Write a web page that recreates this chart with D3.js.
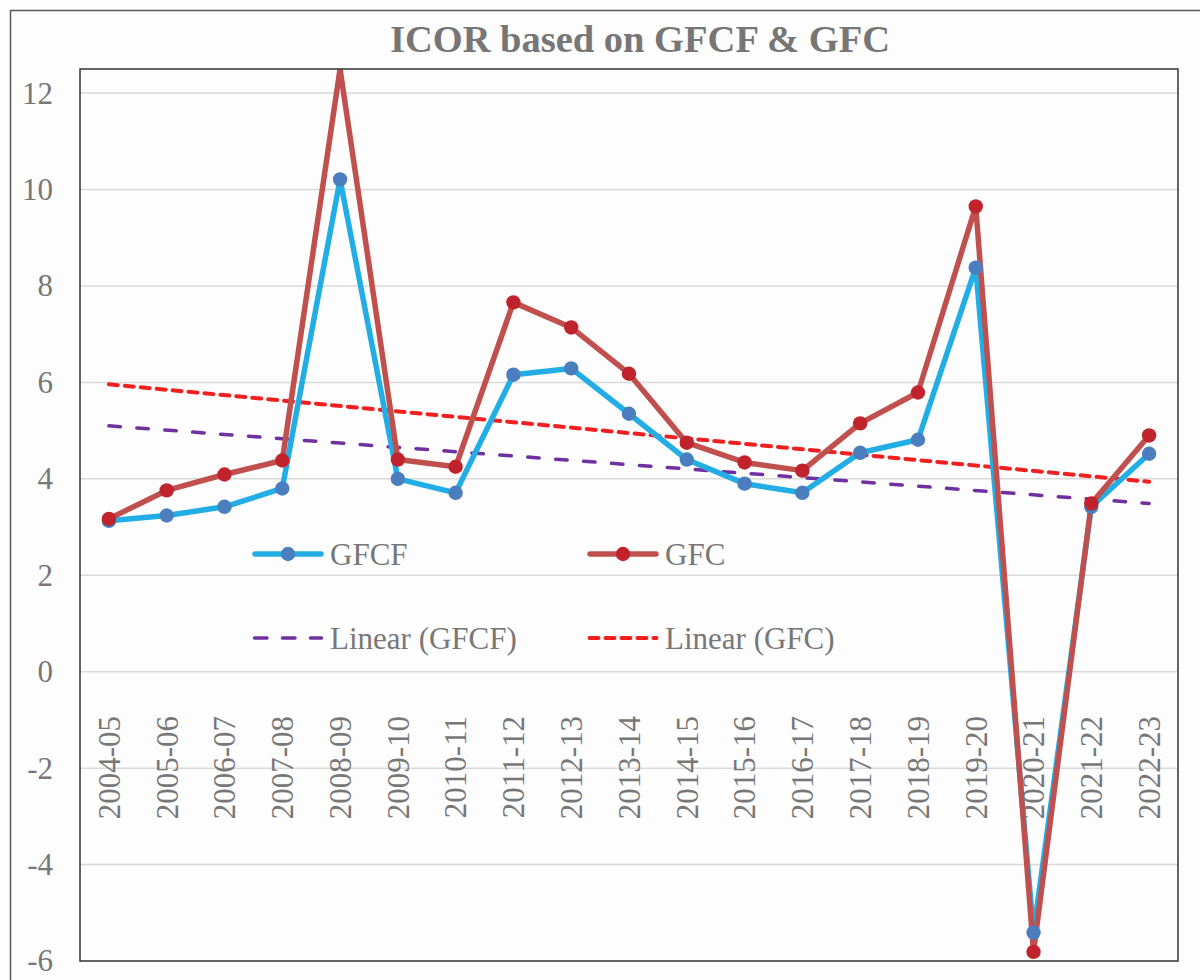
<!DOCTYPE html>
<html>
<head>
<meta charset="utf-8">
<script src="https://cdn.jsdelivr.net/npm/d3@7"></script>
<style>
  html, body { margin: 0; padding: 0; background: #fdfdfe; }
  svg { display: block; }
  text { font-family: "Liberation Serif", "Times New Roman", serif; }
</style>
</head>
<body>
<svg id="chart" width="1200" height="980"></svg>
<script>
const categories = ["2004-05","2005-06","2006-07","2007-08","2008-09","2009-10","2010-11","2011-12","2012-13","2013-14","2014-15","2015-16","2016-17","2017-18","2018-19","2019-20","2020-21","2021-22","2022-23"];
const gfcf = [3.13,3.24,3.42,3.80,10.21,4.00,3.71,6.16,6.29,5.35,4.40,3.90,3.71,4.54,4.81,8.38,-5.41,3.42,4.52];
const gfc  = [3.17,3.76,4.09,4.38,12.5,4.40,4.25,7.66,7.14,6.18,4.75,4.34,4.17,5.15,5.79,9.65,-5.81,3.49,4.90];
// Linear trendline values at first and last category (as drawn)
const trendGfcf = [5.10, 3.49];
const trendGfc  = [5.96, 3.94];
const yTicks = [-6,-4,-2,0,2,4,6,8,10,12];
const title = "ICOR based on GFCF & GFC";
const legendLabels = ["GFCF","GFC","Linear (GFCF)","Linear (GFC)"];

const svg = d3.select("#chart");
const plot = {left: 80, right: 1178, top: 69, bottom: 961};

const x = d3.scalePoint().domain(categories).range([plot.left, plot.right]).padding(0.5);
const y = d3.scaleLinear().domain([-6, 12.5]).range([plot.bottom, plot.top]);

// outer frame
svg.append("path")
  .attr("d", `M10.5,990 L10.5,10.5 L1210,10.5`)
  .attr("fill", "none").attr("stroke", "#595959").attr("stroke-width", 1.5);

// plot background
svg.append("rect")
  .attr("x", plot.left).attr("y", plot.top)
  .attr("width", plot.right - plot.left).attr("height", plot.bottom - plot.top)
  .attr("fill", "#fdfdfe");

// gridlines
svg.append("g").selectAll("line").data(yTicks.filter(t => t > -6)).join("line")
  .attr("x1", plot.left).attr("x2", plot.right)
  .attr("y1", d => y(d)).attr("y2", d => y(d))
  .attr("stroke", "#d9d9d9").attr("stroke-width", 1.5);

// y-axis labels via d3 axis
const yAxis = svg.append("g")
  .attr("transform", `translate(${plot.left},0)`)
  .call(d3.axisLeft(y).tickValues(yTicks).tickSize(0).tickPadding(27).tickFormat(d3.format("d")));
yAxis.select(".domain").remove();
yAxis.selectAll("text")
  .attr("fill", "#777777").style("font-size", "31px")
  .style("font-family", "'Liberation Serif', serif")
  .text(d => String(d).replace("\u2212", "-"));

// x-axis labels (rotated)
svg.append("g").selectAll("text").data(categories).join("text")
  .attr("transform", d => `translate(${x(d)},716) rotate(-90)`)
  .attr("text-anchor", "end")
  .attr("dy", "0.35em")
  .attr("fill", "#777777").style("font-size", "31px")
  .text(d => d);

// clip
svg.append("clipPath").attr("id", "clip").append("rect")
  .attr("x", plot.left).attr("y", plot.top)
  .attr("width", plot.right - plot.left).attr("height", plot.bottom - plot.top);

const g = svg.append("g").attr("clip-path", "url(#clip)");

// trendlines
const first = categories[0], last = categories[categories.length - 1];
g.append("line")
  .attr("x1", x(first)).attr("y1", y(trendGfcf[0]))
  .attr("x2", x(last)).attr("y2", y(trendGfcf[1]))
  .attr("stroke", "#7030a0").attr("stroke-width", 3.5)
  .attr("stroke-dasharray", "11.5,16.5").attr("stroke-linecap", "round");
g.append("line")
  .attr("x1", x(first)).attr("y1", y(trendGfc[0]))
  .attr("x2", x(last)).attr("y2", y(trendGfc[1]))
  .attr("stroke", "#f02020").attr("stroke-width", 4)
  .attr("stroke-dasharray", "9,7").attr("stroke-linecap", "round");

const line = d3.line().x((d, i) => x(categories[i])).y(d => y(d));

// GFCF
g.append("path").datum(gfcf).attr("d", line)
  .attr("fill", "none").attr("stroke", "#22aee5").attr("stroke-width", 5.5)
  .attr("stroke-linejoin", "round").attr("stroke-linecap", "round");
// GFC
g.append("path").datum(gfc).attr("d", line)
  .attr("fill", "none").attr("stroke", "#c0504d").attr("stroke-width", 5.5)
  .attr("stroke-linejoin", "round").attr("stroke-linecap", "round");

// markers
svg.append("g").selectAll("circle").data(gfcf).join("circle")
  .attr("cx", (d, i) => x(categories[i])).attr("cy", d => y(d)).attr("r", 7.2)
  .attr("fill", "#4a7ebf");
svg.append("g").selectAll("circle").data(gfc).join("circle")
  .attr("cx", (d, i) => x(categories[i])).attr("cy", d => Math.max(y(d), plot.top)).attr("r", 7.2)
  .attr("fill", "#c0232b")
  .attr("display", d => y(d) <= plot.top + 1 ? "none" : null);

// plot border
svg.append("rect")
  .attr("x", plot.left).attr("y", plot.top)
  .attr("width", plot.right - plot.left).attr("height", plot.bottom - plot.top)
  .attr("fill", "none").attr("stroke", "#333333").attr("stroke-width", 1.5);

// title
svg.append("text")
  .attr("x", 640).attr("y", 52)
  .attr("text-anchor", "middle")
  .attr("fill", "#767676")
  .style("font-size", "38.5px").style("font-weight", "bold")
  .text(title);

// legend
const leg = svg.append("g");
const legItems = [
  {label: legendLabels[0], x0: 253, y0: 554, type: "gfcf"},
  {label: legendLabels[1], x0: 588, y0: 554, type: "gfc"},
  {label: legendLabels[2], x0: 253, y0: 638, type: "tgfcf"},
  {label: legendLabels[3], x0: 588, y0: 638, type: "tgfc"}
];
legItems.forEach(it => {
  const gg = leg.append("g");
  const x1 = it.x0, x2 = it.x0 + 70;
  if (it.type === "gfcf" || it.type === "gfc") {
    gg.append("line").attr("x1", x1 + 2).attr("x2", x2 - 2).attr("y1", it.y0).attr("y2", it.y0)
      .attr("stroke", it.type === "gfcf" ? "#22aee5" : "#c0504d").attr("stroke-width", 5.5)
      .attr("stroke-linecap", "round");
    gg.append("circle").attr("cx", (x1 + x2) / 2).attr("cy", it.y0).attr("r", 7.2)
      .attr("fill", it.type === "gfcf" ? "#4a7ebf" : "#c0232b");
  } else if (it.type === "tgfcf") {
    gg.append("line").attr("x1", x1 + 1.5).attr("x2", x2 - 1.5).attr("y1", it.y0).attr("y2", it.y0)
      .attr("stroke", "#7030a0").attr("stroke-width", 3.5)
      .attr("stroke-dasharray", "12.5,15.5").attr("stroke-linecap", "round");
  } else {
    gg.append("line").attr("x1", x1 + 1.5).attr("x2", x2 - 1.5).attr("y1", it.y0).attr("y2", it.y0)
      .attr("stroke", "#f02020").attr("stroke-width", 4)
      .attr("stroke-dasharray", "9,7").attr("stroke-linecap", "round");
  }
  gg.append("text").attr("x", x2 + 7).attr("y", it.y0).attr("dy", "0.35em")
    .attr("fill", "#777777").style("font-size", "31px").text(it.label);
});
</script>
</body>
</html>
